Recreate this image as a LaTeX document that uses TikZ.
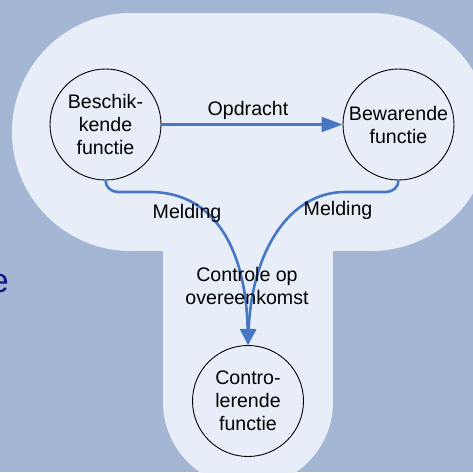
\documentclass[tikz,border=0pt]{standalone}
\usepackage{fontspec}
\setmainfont{Liberation Sans}
\usetikzlibrary{arrows.meta}
\definecolor{bgblue}{RGB}{163,183,212}
\definecolor{lightfill}{RGB}{232,238,247}
\definecolor{arrowblue}{RGB}{70,118,196}
\definecolor{navytext}{RGB}{20,20,130}
\tikzset{
  func/.style={circle, draw=black, line width=0.9pt, minimum size=111pt, inner sep=0pt, align=center,
    font=\fontsize{19.6}{23}\selectfont},
  lbl/.style={inner sep=0pt, align=center, font=\fontsize{19.6}{23}\selectfont},
  conn/.style={draw=arrowblue, line width=2.6pt},
  bigtip/.style={-{Triangle[length=21pt,width=15pt]}},
  smalltip/.style={-{Triangle[length=16pt,width=15pt]}}
}
\begin{document}
\begin{tikzpicture}[x=1pt,y=-1pt]
\useasboundingbox (0,0) rectangle (473,472);
\clip (0,0) rectangle (473,472);
\fill[bgblue] (0,0) rectangle (473,472);
% light background shape
\fill[lightfill] (131,132) circle[radius=119pt];
\fill[lightfill] (371,132) circle[radius=119pt];
\fill[lightfill] (131,13) rectangle (371,251);
\fill[lightfill] (163,200) rectangle (333,402);
\fill[lightfill] (248,402) circle[radius=85pt];
% stray text
\node[anchor=base east, inner sep=0pt, text=navytext, font=\fontsize{34}{40}\selectfont] (stray) at (9,292) {e};
% nodes
\node[func] (besch) at (105.5,124.5) {Beschik-\\kende\\functie};
\node[func] (bew) at (398.5,124.5) {Bewarende\\functie};
\node[func] (contr) at (248,401) {Contro-\\lerende\\functie};
% connectors
\draw[conn, bigtip] (besch.east) -- (bew.west);
\coordinate (lc1) at (118,192);
\coordinate (lc2) at (150,192);
\coordinate (rc1) at (386,192);
\coordinate (rc2) at (345,192);
\draw[conn, smalltip] (besch.south) to[out=-90,in=180] (lc1) -- (lc2) .. controls (215,192) and (246,250) .. (contr.north);
\draw[conn, smalltip] (bew.south) to[out=-90,in=0] (rc1) -- (rc2) .. controls (290,192) and (252,250) .. (contr.north);
% labels
\node[lbl, anchor=base] (opd) at (248,115) {Opdracht};
\node[lbl, anchor=base] (mel1) at (187,218) {Melding};
\node[lbl, anchor=base] (mel2) at (338,215) {Melding};
\node[lbl] (cov) at (247,286) {Controle op\\overeenkomst};
\end{tikzpicture}
\end{document}
